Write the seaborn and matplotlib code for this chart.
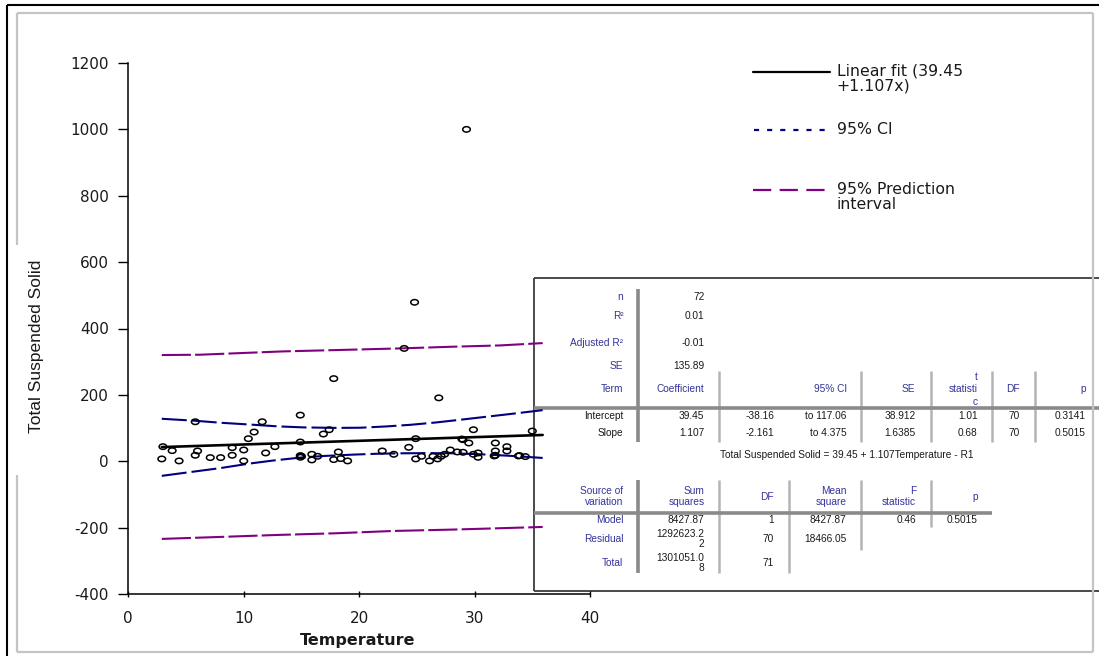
import numpy as np
import pandas as pd
import matplotlib
matplotlib.use("Agg")
import matplotlib.pyplot as plt
import seaborn as sns
from matplotlib.path import Path
from matplotlib.lines import Line2D
from matplotlib.transforms import Affine2D

# ---------------- data ----------------
temperature = [2.9, 3.0, 3.8, 4.4, 5.8, 5.8, 6.0, 7.1, 8.0, 9.0, 9.0, 10.0, 10.0, 10.4,
               10.9, 11.6, 11.9, 12.7, 14.9, 14.9, 14.9, 14.9, 15.0, 15.9, 15.9, 16.4,
               16.9, 17.4, 17.8, 17.8, 18.2, 18.4, 19.0, 22.0, 23.0, 23.9, 24.3, 24.8,
               24.9, 24.9, 25.4, 26.1, 26.4, 26.8, 26.9, 27.1, 27.4, 27.9, 28.5, 28.9,
               29.0, 29.0, 29.3, 29.5, 29.9, 29.9, 30.3, 30.3, 31.7, 31.8, 31.8, 31.8,
               32.8, 32.8, 33.8, 33.9, 34.4, 35.0]
tss = [7, 44, 32, 1, 119, 18, 31, 11, 11, 41, 18, 34, 1, 68,
       88, 119, 25, 44, 139, 58, 17, 12, 15, 21, 4, 15,
       82, 95, 5, 249, 28, 8, 1, 31, 21, 340, 42, 479,
       68, 7, 15, 1, 15, 7, 191, 15, 21, 34, 28, 67,
       27, 65, 1000, 55, 95, 21, 25, 12, 16, 55, 31, 18,
       44, 31, 16, 17, 14, 91]

fit_x = [2.9, 35.9]
fit_y = [42.7, 79.2]

ci_up_x = [2.9, 5.8, 8.0, 10.8, 13.0, 15.2, 18.0, 20.1, 22.4, 24.5, 26.7, 29.0, 31.0, 33.5, 35.9]
ci_up_y = [128, 122, 116, 110, 105, 102, 100.5, 101, 105, 110, 117, 126, 134, 144, 154]
ci_lo_x = [2.9, 5.5, 7.9, 10.5, 12.5, 14.9, 17.0, 19.5, 21.5, 23.8, 26.0, 28.1, 30.5, 33.0, 35.9]
ci_lo_y = [-44, -32, -21, -7, 2, 11, 16, 20, 22.5, 24, 24.5, 24, 21, 16.5, 10]

pi_up_x = [2.9, 6.2, 13.4, 18.0, 23.5, 28.0, 32.2, 35.9]
pi_up_y = [320, 321, 331, 335, 340, 345, 349, 356]
pi_lo_x = [2.9, 8.0, 13.0, 18.0, 23.0, 28.0, 32.0, 35.9]
pi_lo_y = [-234, -228, -222, -217, -210, -206, -202, -198]

x_ticks = [0, 10, 20, 30, 40]
y_ticks = [-400, -200, 0, 200, 400, 600, 800, 1000, 1200]

legend_labels = ["Linear fit (39.45\n+1.107x)", "95% CI", "95% Prediction\ninterval"]

summary_labels = ["n", "R\u00b2", "Adjusted R\u00b2", "SE"]
summary_values = ["72", "0.01", "-0.01", "135.89"]

coef_headers = ["Term", "Coefficient", "95% CI", "SE", "t\nstatisti\nc", "DF", "p"]
coef_terms = ["Intercept", "Slope"]
coef_values = ["39.45", "1.107"]
coef_ci_low = ["-38.16", "-2.161"]
coef_ci_high = ["to 117.06", "to 4.375"]
coef_se = ["38.912", "1.6385"]
coef_t = ["1.01", "0.68"]
coef_df = ["70", "70"]
coef_p = ["0.3141", "0.5015"]

equation = "Total Suspended Solid = 39.45 + 1.107Temperature - R1"

anova_headers = ["Source of\nvariation", "Sum\nsquares", "DF", "Mean\nsquare", "F\nstatistic", "p"]
anova_sources = ["Model", "Residual", "Total"]
anova_ss = ["8427.87", "1292623.2\n2", "1301051.0\n8"]
anova_df = ["1", "70", "71"]
anova_ms = ["8427.87", "18466.05", ""]
anova_f = ["0.46", "", ""]
anova_p = ["0.5015", "", ""]

# ---------------- style ----------------
sns.set_style("ticks")
plt.rcParams["font.family"] = ["DejaVu Sans"]

W, H = 1099, 656
fig = plt.figure(figsize=(W / 100, H / 100), dpi=100, facecolor="white")
# pixel-coordinate transform (origin top-left)
T = Affine2D().scale(1 / W, -1 / H).translate(0, 1) + fig.transFigure

def hline(y, x0, x1, color, lw, z=1):
    fig.add_artist(Line2D([x0, x1], [y, y], transform=T, color=color, lw=lw,
                          zorder=z, solid_capstyle="butt"))

def vline(x, y0, y1, color, lw, z=1):
    fig.add_artist(Line2D([x, x], [y0, y1], transform=T, color=color, lw=lw,
                          zorder=z, solid_capstyle="butt"))

BLUE = "#33339a"
BLACK = "#1a1a1a"
TFONT = dict(family="Liberation Sans", fontsize=7.3)

def txt(x, y, s, color=BLACK, ha="right", ls=1.2, **kw):
    d = dict(TFONT)
    d.update(kw)
    fig.text(x, y, s, transform=T, ha=ha, va="center", color=color,
             linespacing=ls, zorder=1.5, **d)

# ---------------- outer frames ----------------
vline(7, 5, H, "black", 1.5, z=2)
hline(5, 7, W, "black", 1.5, z=2)
FR = "#c4c4c4"
hline(12.7, 17.3, 1093.3, FR, 1.6, z=2.5)
hline(651.7, 17.3, 1093.3, FR, 1.6, z=2.5)
vline(1093.3, 12.7, 651.7, FR, 1.6, z=2.5)
vline(17.3, 12.7, 245, FR, 1.6, z=2.5)
vline(17.3, 475, 651.7, FR, 1.6, z=2.5)

# ---------------- results table ----------------
BOX = "#3c3c3c"
vline(534, 278.3, 590.7, BOX, 1.3)
hline(278.3, 534, W, BOX, 1.3)
hline(590.7, 534, W, BOX, 1.3)

G1 = "#8a8a8a"
G2 = "#b4b4b4"
vline(637.7, 289, 441.7, G1, 2.6)
for xv in [718.8, 861.1, 930.7, 992.0, 1035.2]:
    vline(xv, 370.7, 441.7, G2, 1.8)
hline(407.7, 534, W, G1, 2.6)

rows_y = [296.7, 316.0, 343.3, 366.0]
for lab, val, yy in zip(summary_labels, summary_values, rows_y):
    txt(623.3, yy, lab, color=BLUE)
    txt(704.4, yy, val)

head_x = [623.3, 704.4, 846.7, 915.2, 977.5, 1019.7, 1085.6]
for hx, hs in zip(head_x, coef_headers):
    txt(hx, 389.3, hs, color=BLUE, ls=1.35)

for i, yy in enumerate([416.0, 433.3]):
    txt(623.3, yy, coef_terms[i])
    txt(704.4, yy, coef_values[i])
    txt(774.0, yy, coef_ci_low[i])
    txt(846.7, yy, coef_ci_high[i])
    txt(915.2, yy, coef_se[i])
    txt(977.5, yy, coef_t[i])
    txt(1019.7, yy, coef_df[i])
    txt(1085.6, yy, coef_p[i])

txt(846.4, 455.0, equation, ha="center")

vline(637.7, 480, 573.3, G1, 2.6)
for xv, y1 in [(718.8, 573.3), (789.0, 573.3), (861.1, 550.0), (930.7, 526.7)]:
    vline(xv, 480, y1, G2, 1.8)
hline(512.7, 534, 992, G1, 2.6)

a_head_x = [623.3, 704.4, 773.6, 846.7, 915.9, 977.5]
for hx, hs in zip(a_head_x, anova_headers):
    txt(hx, 496.5, hs, color=BLUE, ls=1.2)

for i, yy in enumerate([520.0, 539.0, 563.0]):
    txt(623.3, yy, anova_sources[i], color=BLUE)
    txt(704.4, yy, anova_ss[i], ls=1.05)
    txt(773.6, yy, anova_df[i])
    txt(846.7, yy, anova_ms[i])
    txt(915.9, yy, anova_f[i])
    txt(977.5, yy, anova_p[i])

# ---------------- legend (manual, outside the axes) ----------------
LFONT = dict(family="DejaVu Sans", fontsize=11.3, color="#1a1a1a")
fig.add_artist(Line2D([752.7, 830], [71.7, 71.7], transform=T, color="black", lw=1.6, zorder=2))
fig.add_artist(Line2D([754, 830], [130, 130], transform=T, color="#000080", lw=1.6,
                      linestyle=(0, (2.3, 3.6)), zorder=2))
fig.add_artist(Line2D([752.7, 830], [190, 190], transform=T, color="#800080", lw=1.6,
                      linestyle=(0, (8.2, 3.8)), zorder=2))
fig.text(836.7, 63.5, legend_labels[0], transform=T, ha="left", va="top", linespacing=1.0, **LFONT)
fig.text(836.7, 130, legend_labels[1], transform=T, ha="left", va="center", **LFONT)
fig.text(836.7, 182, legend_labels[2], transform=T, ha="left", va="top", linespacing=1.0, **LFONT)

# ---------------- main axes ----------------
ax_left, ax_right = 128.3, 590.0
ax_top, ax_bot = 63.0, 594.0
ax = fig.add_axes([ax_left / W, 1 - ax_bot / H, (ax_right - ax_left) / W, (ax_bot - ax_top) / H])
ax.set_zorder(3)
ax.patch.set_alpha(0)

df_pts = pd.DataFrame({"Temperature": temperature, "TSS": tss})
circ = Path.unit_circle()
ell = Path(circ.vertices * np.array([1.4, 1.0]), circ.codes)
sns.scatterplot(data=df_pts, x="Temperature", y="TSS", ax=ax, marker=ell, s=30,
                facecolor="none", edgecolor="black", linewidth=1.1, zorder=4)
ax.collections[-1].set_facecolor("none")

sns.lineplot(x=pi_up_x, y=pi_up_y, ax=ax, color="#800080", lw=1.5,
             linestyle=(0, (14, 2)), zorder=3)
sns.lineplot(x=pi_lo_x, y=pi_lo_y, ax=ax, color="#800080", lw=1.5,
             linestyle=(0, (14, 2)), zorder=3)
sns.lineplot(x=ci_up_x, y=ci_up_y, ax=ax, color="#000080", lw=1.5,
             linestyle=(0, (12, 2.4)), zorder=3)
sns.lineplot(x=ci_lo_x, y=ci_lo_y, ax=ax, color="#000080", lw=1.5,
             linestyle=(0, (12, 2.4)), zorder=3)
sns.lineplot(x=fit_x, y=fit_y, ax=ax, color="black", lw=1.9, zorder=3.5)

ax.set_xlim(0, 40)
ax.set_ylim(-400, 1200)
ax.set_xticks(x_ticks)
ax.set_yticks(y_ticks)
ax.set_xticklabels([str(v) for v in x_ticks])
ax.set_yticklabels([str(v) for v in y_ticks])
sns.despine(ax=ax)
for s in ["left", "bottom"]:
    ax.spines[s].set_linewidth(1.1)
    ax.spines[s].set_color("black")
ax.tick_params(axis="y", direction="out", length=7, width=1.0, pad=7,
               labelsize=11, colors="black", labelcolor="#1a1a1a")
ax.tick_params(axis="x", direction="inout", length=4, width=1.0, pad=10,
               labelsize=11, colors="black", labelcolor="#1a1a1a")

ax.set_xlabel("Temperature", fontsize=11.5, fontweight="bold", family="DejaVu Sans", color="#1a1a1a")
ax.xaxis.set_label_coords((357.5 - ax_left) / (ax_right - ax_left), (ax_bot - 640) / (ax_bot - ax_top))
ax.xaxis.label.set_va("center")
ax.set_ylabel("Total Suspended Solid", fontsize=12.5, family="Liberation Sans", color="#1a1a1a")
ax.yaxis.set_label_coords((37 - ax_left) / (ax_right - ax_left), (ax_bot - 346) / (ax_bot - ax_top))
ax.yaxis.label.set_va("center")

fig.savefig("out.png", dpi=100, facecolor="white")
